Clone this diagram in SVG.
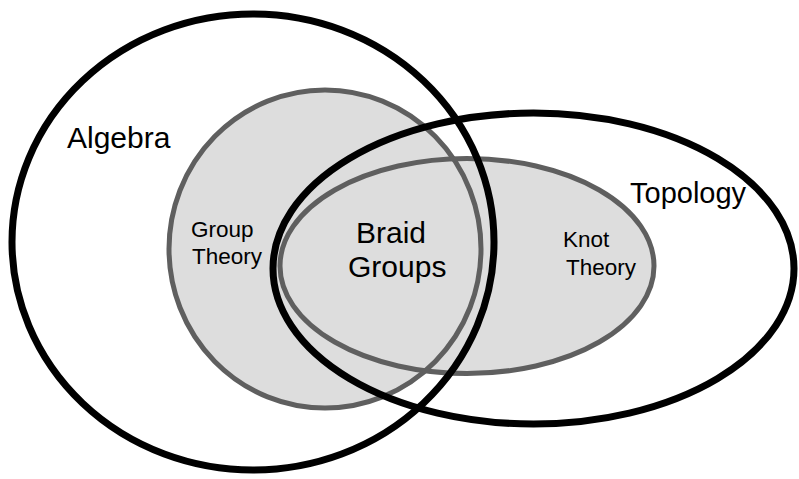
<svg xmlns="http://www.w3.org/2000/svg" width="799" height="479" viewBox="0 0 799 479">
<style>
.blk{fill:none;stroke:#000;stroke-width:7}
.gry{fill:none;stroke:#5f5f5f;stroke-width:5}
.fill{fill:#dddddd;stroke:none}
text{font-family:"Liberation Sans",Arial,Helvetica,sans-serif;fill:#000}
.big{font-size:30px}
.sm{font-size:22.5px}
</style>
<rect width="799" height="479" fill="#fff"/>
<g id="fills">
<ellipse class="fill" cx="325" cy="249" rx="156" ry="159"/>
<ellipse class="fill" cx="467" cy="266" rx="187" ry="107.5"/>
</g>
<g id="group-theory">
<ellipse class="gry" cx="325" cy="249" rx="156" ry="159"/>
<text class="sm" x="191" y="237">Group</text>
<text class="sm" x="192" y="264">Theory</text>
</g>
<g id="knot-theory">
<ellipse class="gry" cx="467" cy="266" rx="187" ry="107.5"/>
<text class="sm" x="563" y="247">Knot</text>
<text class="sm" x="566" y="275">Theory</text>
</g>
<g id="algebra">
<ellipse class="blk" cx="253" cy="242" rx="241" ry="228"/>
<text class="big" x="67" y="148">Algebra</text>
</g>
<g id="topology">
<ellipse class="blk" cx="533.5" cy="268.5" rx="260.5" ry="155.5"/>
<text class="big" x="630" y="203" style="font-size:29px">Topology</text>
</g>
<g id="braid-groups">
<text class="big" x="356" y="243">Braid</text>
<text class="big" x="348" y="277">Groups</text>
</g>
<g id="connectors"></g>
</svg>
